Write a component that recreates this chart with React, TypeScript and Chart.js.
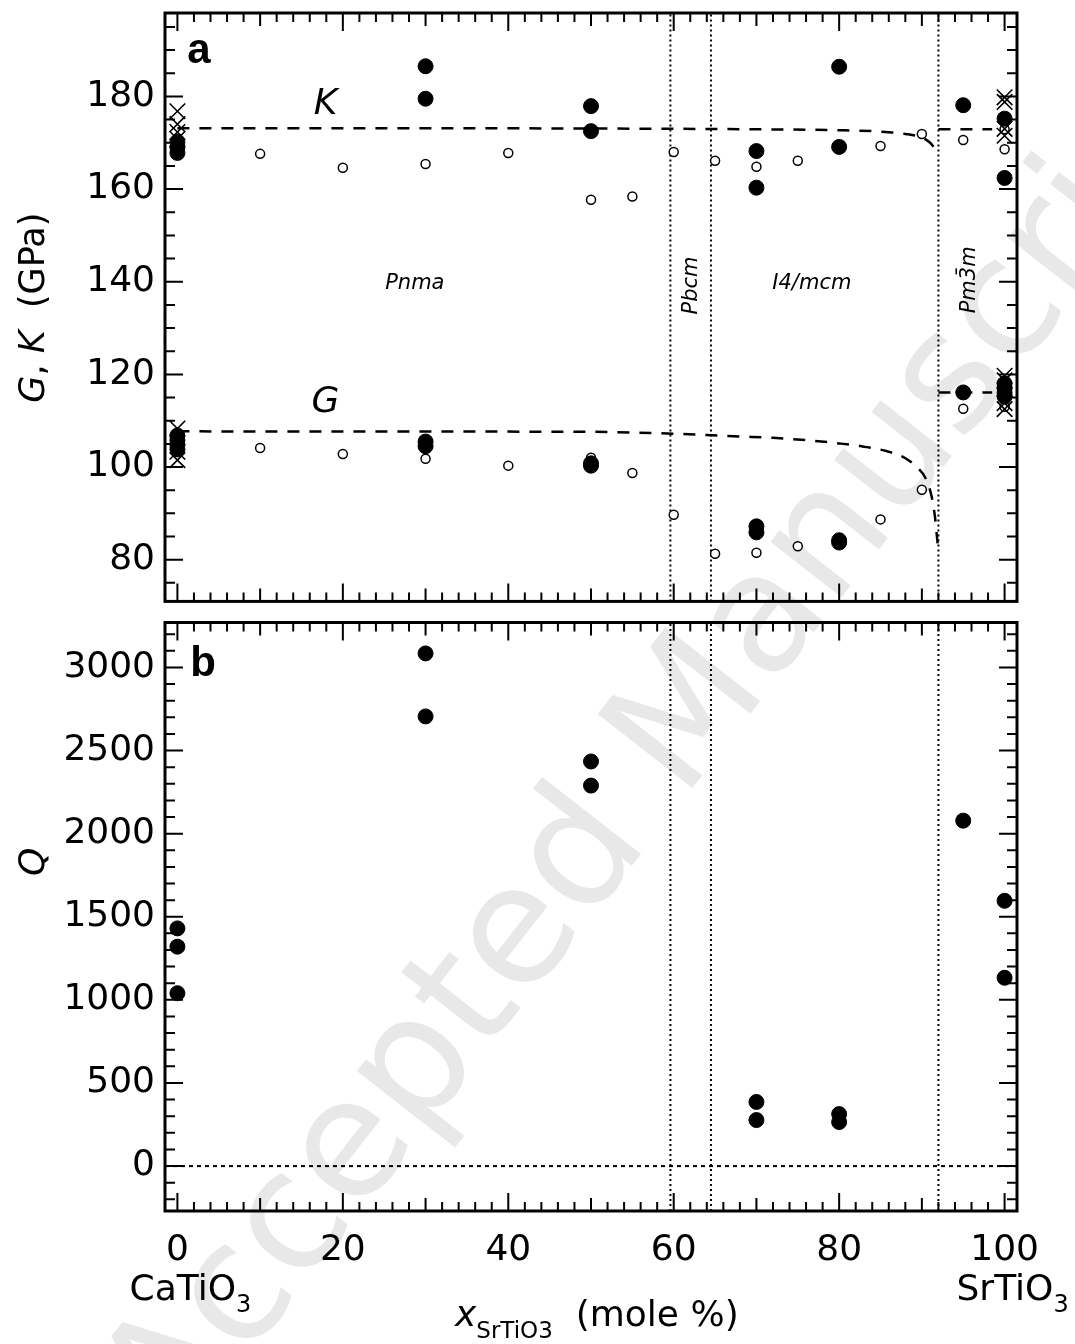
import React, { useEffect, useRef } from "react";
import { Chart, registerables } from "chart.js";
Chart.register(...registerables);

const FONT = "'DejaVu Sans', sans-serif";

// ---- axes ----
const X_MIN = -1.5;
const X_MAX = 101.5;
const GK_MIN = 71;
const GK_MAX = 198;
const Q_MIN = -270;
const Q_MAX = 3270;
const xTickLabels = [0, 20, 40, 60, 80, 100];
const gkTickLabels = [80, 100, 120, 140, 160, 180];
const qTickLabels = [0, 500, 1000, 1500, 2000, 2500, 3000];
const phaseBoundaries = [59.6, 64.5, 92.0];

// ---- panel a: bulk modulus K ----
const kFilledX = [0, 0, 0, 30, 30, 50, 50, 70, 70, 80, 80, 95, 100, 100];
const kFilledY = [170.2, 169, 167.8, 186.5, 179.5, 177.9, 172.5, 168.2, 160.3, 186.4, 169.1, 178.1, 175.2, 162.4];
const kOpenX = [10, 20, 30, 40, 50, 55, 60, 65, 70, 75, 85, 90, 95, 100, 100];
const kOpenY = [167.6, 164.6, 165.4, 167.8, 157.7, 158.4, 168, 166.1, 164.8, 166.1, 169.3, 171.9, 170.6, 172.9, 168.6];
const kCrossX = [0, 0, 0, 0, 100, 100, 100, 100];
const kCrossY = [176.8, 174, 172.3, 170.8, 179.8, 178.8, 173, 171.5];
const kFitX = [0, 20, 40, 60, 70, 80, 85, 88, 90, 91, 91.7];
const kFitY = [173.1, 173.1, 173.1, 173, 172.9, 172.7, 172.4, 171.9, 171.1, 170, 168.5];
const kCubicX = [92, 98.5];
const kCubicY = [172.9, 172.9];

// ---- panel a: shear modulus G ----
const gFilledX = [0, 0, 0, 0, 30, 30, 50, 50, 70, 70, 80, 80, 95, 100, 100, 100, 100];
const gFilledY = [106.8, 105.8, 104.8, 103.8, 105.5, 104.5, 100.8, 100.3, 87.2, 85.9, 84.2, 83.7, 116.1, 118, 117, 116, 115.2];
const gOpenX = [10, 20, 30, 40, 50, 55, 60, 65, 70, 75, 85, 90, 95, 100];
const gOpenY = [104.1, 102.8, 101.8, 100.3, 102, 98.7, 89.7, 81.3, 81.5, 82.9, 88.7, 95.1, 112.6, 113];
const gCrossX = [0, 0, 0, 100, 100, 100, 100];
const gCrossY = [108.3, 103.3, 101.5, 119.7, 118.7, 113.8, 112.5];
const gFitX = [0, 50, 60, 64, 68, 72, 76, 80, 83, 86, 88, 89.5, 90.5, 91.2, 91.6, 91.9];
const gFitY = [107.7, 107.6, 107.2, 106.9, 106.6, 106.3, 105.8, 105.1, 104.4, 103.3, 101.9, 99.8, 97.4, 93.5, 89, 83.5];
const gCubicX = [92, 98.5];
const gCubicY = [116.1, 116.1];

// ---- panel b: Q ----
const qX = [0, 0, 0, 30, 30, 50, 50, 70, 70, 80, 80, 95, 100, 100];
const qY = [1430, 1320, 1040, 3084, 2705, 2434, 2289, 386, 277, 313, 265, 2078, 1596, 1133];

type P = { x: number; y: number };
const pts = (xs: number[], ys: number[]): P[] => xs.map((x, i) => ({ x, y: ys[i] }));

type Seg = { t: string; f: string; dy?: number };
function drawSegs(ctx: CanvasRenderingContext2D, segs: Seg[], x: number, y: number, align: "center" | "left") {
  let total = 0;
  for (const s of segs) {
    ctx.font = s.f;
    total += ctx.measureText(s.t).width;
  }
  let cx = align === "center" ? x - total / 2 : x;
  ctx.textAlign = "left";
  for (const s of segs) {
    ctx.font = s.f;
    ctx.fillText(s.t, cx, y + (s.dy || 0));
    cx += ctx.measureText(s.t).width;
  }
}

function framePlugin(yMinorStep: number, yMajorStep: number, yFrom: number, yTo: number, texts: (c: Chart) => void) {
  return {
    id: "frameTicks",
    afterDatasetsDraw(chart: any) {
      const { ctx, chartArea: a, scales } = chart;
      const xs = scales.x;
      const ys = scales.y;
      ctx.save();
      ctx.strokeStyle = "#000";
      ctx.lineWidth = 2;
      ctx.setLineDash([]);
      ctx.beginPath();
      for (let v = 0; v <= 100; v += 2) {
        const px = xs.getPixelForValue(v);
        const len = v % 20 === 0 ? 18 : v % 10 === 0 ? 13 : 9;
        ctx.moveTo(px, a.bottom);
        ctx.lineTo(px, a.bottom - len);
        ctx.moveTo(px, a.top);
        ctx.lineTo(px, a.top + len);
      }
      for (let v = yFrom; v <= yTo; v += yMinorStep) {
        const py = ys.getPixelForValue(v);
        const len = v % yMajorStep === 0 ? 18 : 10;
        ctx.moveTo(a.left, py);
        ctx.lineTo(a.left + len, py);
        ctx.moveTo(a.right, py);
        ctx.lineTo(a.right - len, py);
      }
      ctx.stroke();
      ctx.lineWidth = 3;
      ctx.strokeRect(a.left, a.top, a.right - a.left, a.bottom - a.top);
      ctx.restore();
      ctx.save();
      ctx.fillStyle = "#000";
      texts(chart);
      ctx.restore();
    },
  };
}

const pointSet = (data: P[], kind: "filled" | "open" | "cross") => {
  if (kind === "filled")
    return { data, showLine: false, pointStyle: "circle", pointRadius: 7.5, pointBackgroundColor: "#000", pointBorderColor: "#000", pointBorderWidth: 1 };
  if (kind === "open")
    return { data, showLine: false, pointStyle: "circle", pointRadius: 4.5, pointBackgroundColor: "#fff", pointBorderColor: "#000", pointBorderWidth: 1.5 };
  return { data, showLine: false, pointStyle: "crossRot", pointRadius: 11, pointBackgroundColor: "#000", pointBorderColor: "#000", pointBorderWidth: 1.6 };
};

const lineSet = (data: P[], dash: number[], width: number, smooth = false) => ({
  data,
  showLine: true,
  borderColor: "#000",
  borderWidth: width,
  borderDash: dash,
  pointRadius: 0,
  fill: false,
  cubicInterpolationMode: smooth ? "monotone" : "default",
  tension: 0,
});

const zeroPad = (s: any) => {
  s.paddingTop = 0;
  s.paddingBottom = 0;
  s.paddingLeft = 0;
  s.paddingRight = 0;
};

export default function App() {
  const refA = useRef<HTMLCanvasElement>(null);
  const refB = useRef<HTMLCanvasElement>(null);

  useEffect(() => {
    const tickFont = { family: FONT, size: 36 };

    const boundaryA = phaseBoundaries.map((b) => lineSet([{ x: b, y: GK_MIN }, { x: b, y: GK_MAX }], [2, 3], 2));
    const boundaryB = phaseBoundaries.map((b) => lineSet([{ x: b, y: Q_MIN }, { x: b, y: Q_MAX }], [2, 3], 2));

    const textsA = (chart: any) => {
      const { ctx, chartArea: a, scales } = chart;
      const X = (v: number) => scales.x.getPixelForValue(v);
      const Y = (v: number) => scales.y.getPixelForValue(v);
      ctx.textBaseline = "middle";
      ctx.textAlign = "center";
      ctx.font = `bold 42px 'Liberation Sans', sans-serif`;
      ctx.fillText("a", X(2.6), Y(189.8));
      ctx.font = `italic 36px ${FONT}`;
      ctx.fillText("K", X(17.9), Y(178.3));
      ctx.fillText("G", X(17.9), Y(114.0));
      ctx.font = `italic 21px ${FONT}`;
      ctx.fillText("Pnma", X(28.7), Y(139.7));
      ctx.fillText("I4/mcm", X(76.7), Y(139.7));
      const rot = (t: string, x: number, y: number) => {
        ctx.save();
        ctx.translate(x, y);
        ctx.rotate(-Math.PI / 2);
        ctx.fillText(t, 0, 0);
        ctx.restore();
      };
      rot("Pbcm", X(62.1), Y(139.2));
      rot("Pm3\u0304m", X(95.8), Y(140.4));
      // y title
      ctx.save();
      ctx.translate(a.left - 130, Y(134.4));
      ctx.rotate(-Math.PI / 2);
      drawSegs(
        ctx,
        [
          { t: "G", f: `italic 35px ${FONT}` },
          { t: ", ", f: `35px ${FONT}` },
          { t: "K", f: `italic 35px ${FONT}` },
          { t: "  (GPa)", f: `35px ${FONT}` },
        ],
        0,
        0,
        "center"
      );
      ctx.restore();
    };

    const textsB = (chart: any) => {
      const { ctx, chartArea: a, scales } = chart;
      const X = (v: number) => scales.x.getPixelForValue(v);
      const Y = (v: number) => scales.y.getPixelForValue(v);
      ctx.textBaseline = "middle";
      ctx.textAlign = "center";
      ctx.font = `bold 42px 'Liberation Sans', sans-serif`;
      ctx.fillText("b", X(3.1), Y(3020));
      ctx.save();
      ctx.translate(a.left - 130, Y(1830));
      ctx.rotate(-Math.PI / 2);
      ctx.font = `italic 36px ${FONT}`;
      ctx.fillText("Q", 0, 0);
      ctx.restore();
      ctx.textBaseline = "alphabetic";
      const base1 = a.bottom + 89;
      drawSegs(ctx, [{ t: "CaTiO", f: `36px ${FONT}` }, { t: "3", f: `24px ${FONT}`, dy: 12 }], X(0) + 13, base1, "center");
      drawSegs(ctx, [{ t: "SrTiO", f: `36px ${FONT}` }, { t: "3", f: `24px ${FONT}`, dy: 12 }], X(100) + 8, base1, "center");
      const base2 = a.bottom + 115;
      drawSegs(
        ctx,
        [
          { t: "x", f: `italic 36px ${FONT}` },
          { t: "SrTiO3", f: `23px ${FONT}`, dy: 12 },
          { t: "  (mole %)", f: `36px ${FONT}` },
        ],
        455,
        base2,
        "left"
      );
    };

    const chartA = new Chart(refA.current!, {
      type: "scatter",
      data: {
        datasets: [
          pointSet(pts(kFilledX, kFilledY), "filled"),
          pointSet(pts(gFilledX, gFilledY), "filled"),
          pointSet(pts(kCrossX, kCrossY), "cross"),
          pointSet(pts(gCrossX, gCrossY), "cross"),
          pointSet(pts(kOpenX, kOpenY), "open"),
          pointSet(pts(gOpenX, gOpenY), "open"),
          lineSet(pts(kFitX, kFitY), [12, 10], 2.5, true),
          lineSet(pts(kCubicX, kCubicY), [12, 10], 2.5),
          lineSet(pts(gFitX, gFitY), [12, 10], 2.5, true),
          lineSet(pts(gCubicX, gCubicY), [12, 10], 2.5),
          ...boundaryA,
        ] as any,
      },
      options: {
        responsive: false,
        animation: false,
        layout: { padding: { top: 13, right: 58, bottom: 8, left: 0 } },
        plugins: { legend: { display: false }, tooltip: { enabled: false } },
        scales: {
          x: { type: "linear", min: X_MIN, max: X_MAX, display: false },
          y: {
            type: "linear",
            min: GK_MIN,
            max: GK_MAX,
            grid: { display: false, drawTicks: false },
            border: { display: false },
            ticks: { font: tickFont, color: "#000", padding: 10, callback: (v: any) => String(v) },
            afterBuildTicks: (s: any) => {
              s.ticks = gkTickLabels.map((v) => ({ value: v }));
            },
            afterFit: (s: any) => {
              s.width = 165;
              zeroPad(s);
            },
          },
        },
      } as any,
      plugins: [framePlugin(5, 20, 75, 195, textsA) as any],
    });

    const chartB = new Chart(refB.current!, {
      type: "scatter",
      data: {
        datasets: [
          pointSet(pts(qX, qY), "filled"),
          lineSet([{ x: X_MIN, y: 0 }, { x: X_MAX, y: 0 }], [4, 4], 2),
          ...boundaryB,
        ] as any,
      },
      options: {
        responsive: false,
        animation: false,
        layout: { padding: { top: 8, right: 58, bottom: 0, left: 0 } },
        plugins: { legend: { display: false }, tooltip: { enabled: false } },
        scales: {
          x: {
            type: "linear",
            min: X_MIN,
            max: X_MAX,
            grid: { display: false, drawTicks: false },
            border: { display: false },
            ticks: { font: tickFont, color: "#000", padding: 18, maxRotation: 0, callback: (v: any) => String(v) },
            afterBuildTicks: (s: any) => {
              s.ticks = xTickLabels.map((v) => ({ value: v }));
            },
            afterFit: (s: any) => {
              s.height = 133;
              zeroPad(s);
            },
          },
          y: {
            type: "linear",
            min: Q_MIN,
            max: Q_MAX,
            grid: { display: false, drawTicks: false },
            border: { display: false },
            ticks: { font: tickFont, color: "#000", padding: 10, callback: (v: any) => String(v) },
            afterBuildTicks: (s: any) => {
              s.ticks = qTickLabels.map((v) => ({ value: v }));
            },
            afterFit: (s: any) => {
              s.width = 165;
              zeroPad(s);
            },
          },
        },
      } as any,
      plugins: [framePlugin(100, 500, -200, 3200, textsB) as any],
    });

    return () => {
      chartA.destroy();
      chartB.destroy();
    };
  }, []);

  return (
    <div style={{ position: "absolute", left: 0, top: 0, width: 1075, height: 1344, background: "#fff", overflow: "hidden" }}>
      <div
        style={{
          position: "absolute",
          left: 666,
          top: 730,
          transform: "translate(-50%, -50%) rotate(-52deg)",
          whiteSpace: "nowrap",
          fontFamily: FONT,
          fontSize: 165,
          lineHeight: 1,
          color: "#e8e8e8",
        }}
      >
        Accepted Manuscript
      </div>
      <canvas ref={refA} width={1075} height={614} style={{ position: "absolute", left: 0, top: 0 }} />
      <canvas ref={refB} width={1075} height={730} style={{ position: "absolute", left: 0, top: 614 }} />
    </div>
  );
}
